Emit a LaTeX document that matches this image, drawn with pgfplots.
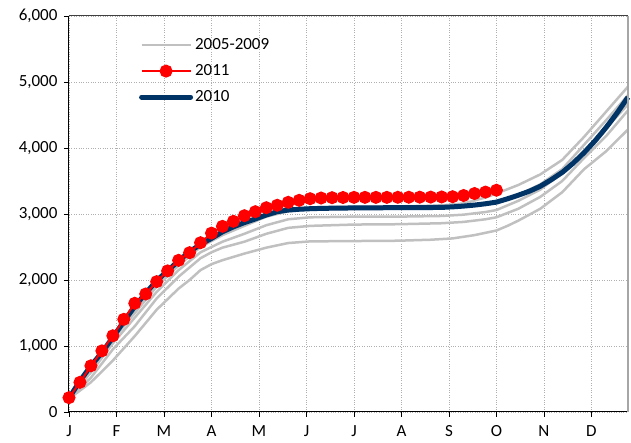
\documentclass[border=0pt]{standalone}
\usepackage{pgfplots}
\pgfplotsset{compat=1.18}
\usepackage{fontspec}
\setmainfont{Carlito}
\definecolor{navy}{RGB}{0,51,102}
\definecolor{lgray}{RGB}{192,192,192}
\definecolor{gridc}{RGB}{175,175,175}
\begin{document}
\begin{tikzpicture}
\begin{axis}[
  name=ax,
  scale only axis, width=559pt, height=396pt,
  xmin=0, xmax=51, ymin=0, ymax=6000,
  clip=false,
  axis x line*=bottom, axis y line*=left,
  axis line style={black, line width=1pt},
  xtick={0,4.3333,8.6667,13,17.3333,21.6667,26,30.3333,34.6667,39,43.3333,47.6667},
  xticklabels={J,F,M,A,M,J,J,A,S,O,N,D},
  ytick={0,1000,2000,3000,4000,5000,6000},
  tick align=outside, major tick length=5pt,
  tick style={black, line width=0.8pt},
  grid=major,
  major grid style={dotted, gridc, line width=0.7pt},
  /pgf/number format/.cd, 1000 sep={,}, assume math mode=true, /pgfplots/.cd,
  ticklabel style={font=\fontsize{17}{20}\selectfont},
  yticklabel style={xshift=-3pt},
  xticklabel style={yshift=-5pt},
  legend style={at={(rel axis cs:0.125,0.948)}, anchor=north west, draw=none, fill=none,
    font=\fontsize{17}{20}\selectfont, row sep=9.5pt, inner sep=0pt},
  legend cell align=left,
  legend image code/.code={\draw[mark repeat=2,mark phase=2,#1] plot coordinates {(0pt,0pt) (24.5pt,0pt) (49pt,0pt)};},
]
\addlegendimage{lgray, line width=2.5pt}
\addlegendentry{2005-2009}
\addlegendimage{red, line width=2pt, mark=*, mark size=5.5pt, mark options={fill=red, draw=red}}
\addlegendentry{2011}
\addlegendimage{navy, line width=5pt, line cap=round}
\addlegendentry{2010}

% 2005-2009 (grey)
\addplot[lgray, line width=2.5pt, forget plot] coordinates {
(0,200)(2,450)(4,780)(6,1150)(8,1550)(10,1870)(11,2000)(12,2150)(13,2240)(14,2300)(16,2400)(18,2490)(20,2560)(22,2585)(26,2590)(30,2595)(33,2610)(35,2630)(37,2680)(39,2750)(40,2820)(41,2900)(43,3080)(45,3330)(47,3680)(49,3950)(51,4280)};
\addplot[lgray, line width=2.5pt, forget plot] coordinates {
(0,200)(2,520)(4,950)(6,1300)(8,1720)(10,2050)(12,2330)(13,2420)(14,2490)(16,2580)(18,2700)(20,2790)(22,2820)(26,2840)(30,2845)(34,2860)(36,2880)(38,2920)(39,2950)(41,3080)(43,3260)(45,3500)(47,3850)(49,4180)(51,4570)};
\addplot[lgray, line width=2.5pt, forget plot] coordinates {
(0,210)(2,600)(4,1040)(6,1430)(8,1820)(10,2150)(12,2420)(14,2580)(16,2700)(18,2830)(20,2920)(22,2950)(26,2960)(30,2960)(34,2970)(36,2990)(38,3030)(39,3060)(41,3200)(43,3370)(45,3620)(47,3950)(49,4300)(51,4660)};
\addplot[lgray, line width=2.5pt, forget plot] coordinates {
(0,220)(2,650)(4,1100)(6,1500)(8,1900)(10,2220)(12,2500)(14,2680)(16,2820)(18,2960)(20,3040)(22,3075)(26,3080)(30,3085)(34,3090)(36,3110)(38,3150)(39,3180)(41,3290)(43,3450)(45,3680)(47,4050)(49,4420)(51,4800)};
\addplot[lgray, line width=2.5pt, forget plot] coordinates {
(0,230)(2,680)(4,1120)(6,1550)(8,1950)(10,2250)(12,2520)(14,2700)(16,2860)(18,2990)(20,3070)(22,3100)(26,3110)(30,3115)(34,3130)(36,3160)(38,3250)(39,3310)(41,3440)(43,3600)(45,3820)(47,4170)(49,4550)(51,4930)};

% 2010
\addplot[navy, line width=5pt, line join=round, forget plot] coordinates {
(0,210)(1,470)(2,700)(3,900)(4,1130)(5,1370)(6,1600)(7,1800)(8,1990)(9,2140)(10,2290)(11,2430)(12,2540)(13,2630)(14,2730)(15,2805)(16,2870)(17,2925)(18,2985)(19,3035)(20,3060)(21,3072)(22,3080)(23,3085)(24,3088)(25,3090)(26,3092)(27,3093)(28,3094)(29,3095)(30,3095)(31,3096)(32,3097)(33,3098)(34,3100)(35,3108)(36,3120)(37,3135)(38,3155)(39,3180)(40,3230)(41,3285)(42,3345)(43,3420)(44,3520)(45,3630)(46,3770)(47,3930)(48,4110)(49,4310)(50,4530)(51,4770)};

% 2011
\addplot[red, line width=2pt, mark=*, mark size=5.5pt, mark options={fill=red, draw=red}, forget plot] coordinates {
(0,217)(1,450)(2,700)(3,926)(4,1155)(5,1404)(6,1647)(7,1788)(8,1975)(9,2138)(10,2298)(11,2414)(12,2565)(13,2710)(14,2813)(15,2889)(16,2974)(17,3035)(18,3095)(19,3132)(20,3177)(21,3207)(22,3232)(23,3242)(24,3247)(25,3250)(26,3252)(27,3252)(28,3252)(29,3252)(30,3253)(31,3254)(32,3255)(33,3256)(34,3258)(35,3262)(36,3280)(37,3310)(38,3332)(39,3360)};

\draw[black!75, line width=1pt] (rel axis cs:0,1) -- (rel axis cs:1,1);
\draw[black!35, line width=1.5pt] (rel axis cs:1,0) -- (rel axis cs:1,1);
\end{axis}
\pgfresetboundingbox
\path[use as bounding box] ([xshift=-69pt,yshift=-31pt]ax.south west) rectangle ([xshift=3pt,yshift=16pt]ax.north east);
\end{tikzpicture}
\end{document}
